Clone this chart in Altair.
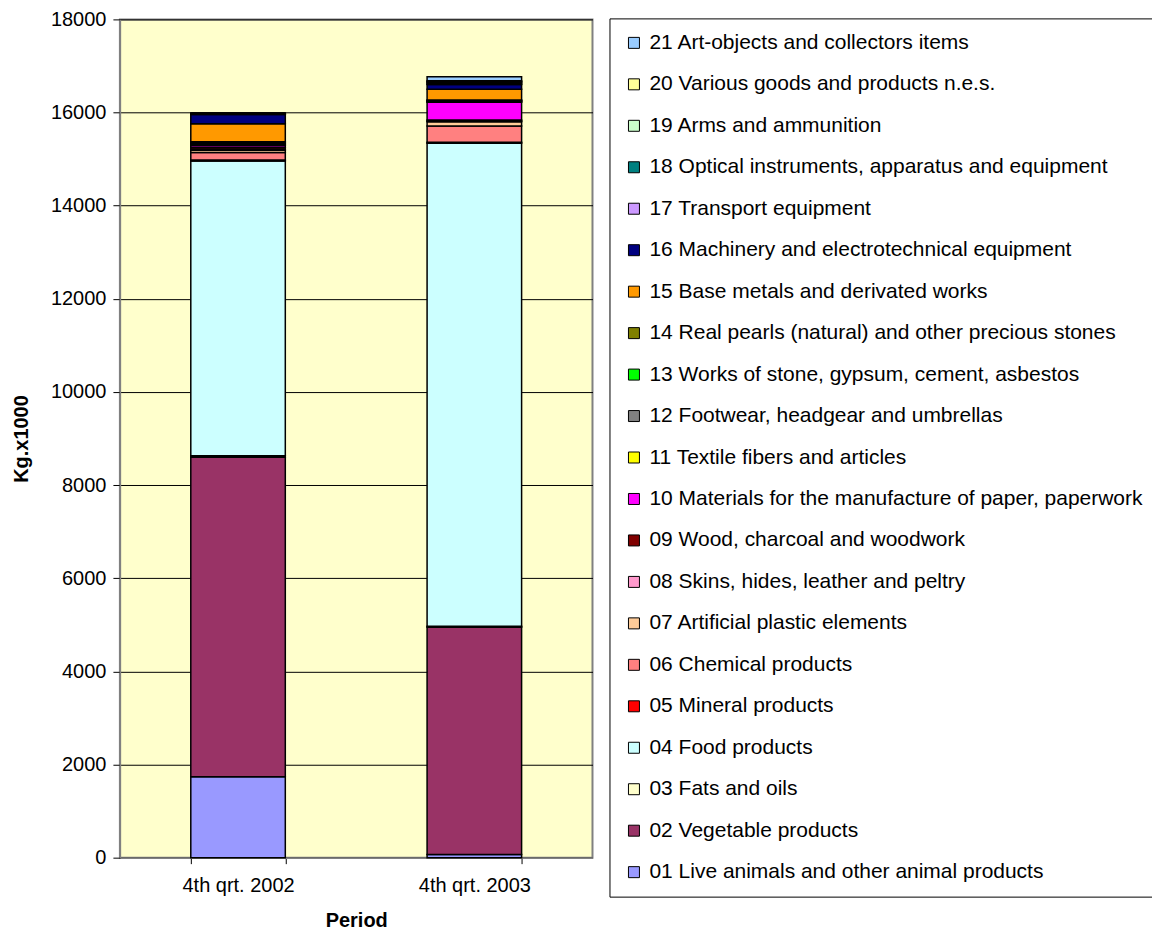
import altair as alt
import pandas as pd

periods = ["4th qrt. 2002", "4th qrt. 2003"]

categories = [
    "01 Live animals and other animal products",
    "02 Vegetable products",
    "03 Fats and oils",
    "04 Food products",
    "05 Mineral products",
    "06 Chemical products",
    "07 Artificial plastic elements",
    "08 Skins, hides, leather and peltry",
    "09 Wood, charcoal and woodwork",
    "10 Materials for the manufacture of paper, paperwork",
    "11 Textile fibers and articles",
    "12 Footwear, headgear and umbrellas",
    "13 Works of stone, gypsum, cement, asbestos",
    "14 Real pearls (natural) and other precious stones",
    "15 Base metals and derivated works",
    "16 Machinery and electrotechnical equipment",
    "17 Transport equipment",
    "18 Optical instruments, apparatus and equipment",
    "19 Arms and ammunition",
    "20 Various goods and products n.e.s.",
    "21 Art-objects and collectors items",
]

colors = [
    "#9999FF", "#993366", "#FFFFCC", "#CCFFFF", "#FF0000", "#FF8080",
    "#FFCC99", "#FF99CC", "#800000", "#FF00FF", "#FFFF00", "#808080",
    "#00FF00", "#808000", "#FF9900", "#000080", "#CC99FF", "#008080",
    "#CCFFCC", "#FFFF99", "#99CCFF",
]

q4_2002 = [1740, 6860, 30, 6330, 20, 160, 50, 20, 40, 40, 20, 30, 20, 10, 390, 200, 10, 10, 0, 10, 0]
q4_2003 = [70, 4880, 20, 10370, 20, 350, 90, 20, 20, 380, 10, 20, 10, 10, 230, 100, 20, 30, 10, 20, 90]

y_ticks = [0, 2000, 4000, 6000, 8000, 10000, 12000, 14000, 16000, 18000]

rows = []
for p, series in zip(periods, [q4_2002, q4_2003]):
    for i, (c, v) in enumerate(zip(categories, series)):
        rows.append({"period": p, "category": c, "idx": i, "value": v})
df = pd.DataFrame(rows)

FONT = "Liberation Sans"
FS = 20
LFS = 21

chart = alt.Chart(df).mark_bar(stroke="black", strokeWidth=1.5).encode(
    x=alt.X(
        "period:N",
        title="Period",
        sort=periods,
        scale=alt.Scale(paddingInner=0.6, paddingOuter=0.3),
        axis=alt.Axis(
            labelAngle=0, tickBand="extent", tickSize=6, tickColor="black",
            domainColor="#808080", domainWidth=1.5, labelPadding=12,
            titlePadding=15, labelFont=FONT, labelFontSize=FS, labelColor="black",
            titleFont=FONT, titleFontSize=FS, titleFontWeight="bold", grid=False,
        ),
    ),
    y=alt.Y(
        "value:Q",
        title="Kg.x1000",
        stack="zero",
        scale=alt.Scale(domain=[0, 18000], nice=False),
        axis=alt.Axis(
            values=y_ticks, format="d", tickSize=7, tickColor="black",
            domainColor="#808080", domainWidth=1.5, labelPadding=7,
            titlePadding=19, labelFont=FONT, labelFontSize=FS, labelColor="black",
            titleFont=FONT, titleFontSize=FS, titleFontWeight="bold",
            grid=True, gridColor="black", gridWidth=1,
        ),
    ),
    color=alt.Color(
        "category:N",
        scale=alt.Scale(domain=categories[::-1], range=colors[::-1]),
        legend=alt.Legend(
            title=None, orient="none", legendX=490, legendY=-1,
            symbolType="square", symbolSize=121, symbolStrokeColor="black",
            symbolStrokeWidth=1, labelFont=FONT, labelFontSize=LFS,
            labelColor="black", labelLimit=0, rowPadding=19.5, padding=14,
            labelOffset=5, strokeColor="black", fillColor="white",
        ),
    ),
    order=alt.Order("idx:Q", sort="ascending"),
).properties(
    width=473,
    height=839,
    autosize=alt.AutoSizeParams(type="none"),
    padding={"left": 112, "top": 11, "right": 560, "bottom": 73},
).configure_view(
    fill="#FFFFCC", stroke="#808080", strokeWidth=2
)

chart.save("out.html", embed_options={"renderer": "svg", "actions": False})
